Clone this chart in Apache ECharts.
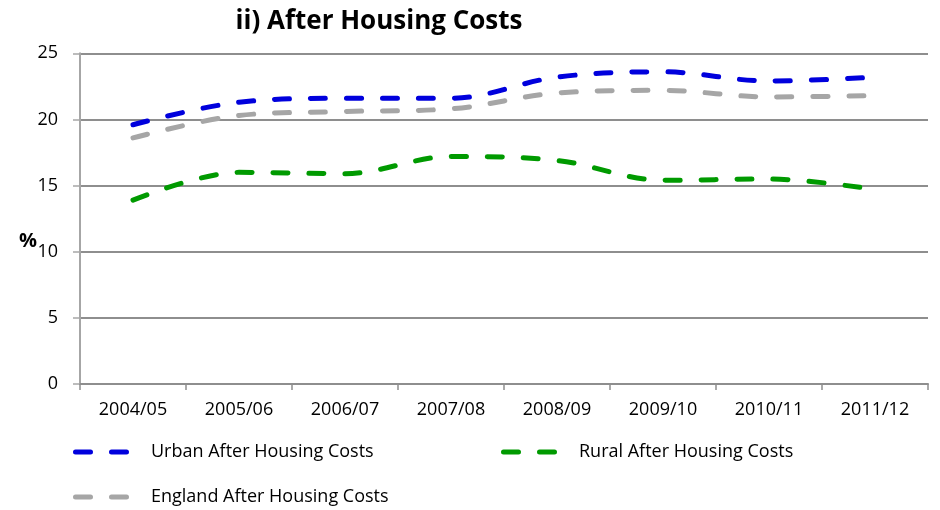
<!DOCTYPE html>
<html>
<head>
<meta charset="utf-8">
<style>
  html, body { margin: 0; padding: 0; background: #fff; }
  #chart { width: 940px; height: 510px; }
</style>
<script src="https://cdn.jsdelivr.net/npm/echarts@6/dist/echarts.min.js"></script>
</head>
<body>
<div id="chart"></div>
<script>
// Share of people in low income, after housing costs (%)
const years = ['2004/05', '2005/06', '2006/07', '2007/08', '2008/09', '2009/10', '2010/11', '2011/12'];
const urbanAHC = [19.6, 21.3, 21.6, 21.6, 23.2, 23.6, 22.9, 23.2];
const ruralAHC = [13.9, 16.0, 15.9, 17.2, 16.9, 15.4, 15.5, 14.7];
const englandAHC = [18.6, 20.3, 20.6, 20.8, 22.0, 22.2, 21.7, 21.8];
const yTicks = { min: 0, max: 25, interval: 5 };

const FONT = '"Open Sans", "Noto Sans", sans-serif';
// two rounded dashes, used as the legend key
const dashIcon = 'path://M2.5,0H17.5A2.5,2.5,0,0,1,17.5,5H2.5A2.5,2.5,0,0,1,2.5,0Z' +
                 'M38.5,0H53.5A2.5,2.5,0,0,1,53.5,5H38.5A2.5,2.5,0,0,1,38.5,0Z';

function legendAt(name, left, top) {
  return {
    data: [name], left: left, top: top, orient: 'horizontal', padding: 0,
    icon: dashIcon, itemWidth: 56, itemHeight: 5,
    selectedMode: false,
    textStyle: { fontFamily: FONT, fontSize: 18, color: '#000', lineHeight: 20, padding: [0, 0, 0, 17] }
  };
}

function dashedSeries(name, data, color) {
  return {
    name: name, type: 'line', data: data, smooth: 0.35,
    symbol: 'none', color: color,
    lineStyle: { color: color, width: 5, type: [15, 21], cap: 'round' }
  };
}

const chart = echarts.init(document.getElementById('chart'), null, { renderer: 'canvas' });
chart.setOption({
  animation: false,
  backgroundColor: '#ffffff',
  title: {
    text: 'ii) After Housing Costs', left: 379, top: 6, textAlign: 'center', padding: 0,
    textStyle: { fontFamily: FONT, fontSize: 26, fontWeight: 'bold', color: '#000', lineHeight: 32 }
  },
  grid: { left: 80, right: 12, top: 53.3, bottom: 126, containLabel: false },
  xAxis: {
    type: 'category', data: years, boundaryGap: true,
    axisLine: { lineStyle: { color: '#8e8e8e', width: 2 } },
    axisTick: { show: true, length: 6, lineStyle: { color: '#8e8e8e', width: 1.5 } },
    axisLabel: { fontFamily: FONT, fontSize: 18, color: '#000', margin: 17 }
  },
  yAxis: {
    type: 'value', min: yTicks.min, max: yTicks.max, interval: yTicks.interval,
    axisLine: { show: true, lineStyle: { color: '#a6a6a6', width: 2 } },
    axisTick: { show: true, length: 7, lineStyle: { color: '#a6a6a6', width: 1.5 } },
    axisLabel: { fontFamily: FONT, fontSize: 18, color: '#000', margin: 22 },
    splitLine: { lineStyle: { color: '#8e8e8e', width: 2 } }
  },
  legend: [
    legendAt('Urban After Housing Costs', 73, 442),
    legendAt('Rural After Housing Costs', 501, 442),
    legendAt('England After Housing Costs', 73, 487)
  ],
  graphic: [{
    type: 'text', left: 19, top: 231,
    style: { text: '%', fontFamily: FONT, fontSize: 20, fontWeight: 'bold', fill: '#000' }
  }],
  series: [
    dashedSeries('Urban After Housing Costs', urbanAHC, '#0000dd'),
    dashedSeries('England After Housing Costs', englandAHC, '#a6a6a6'),
    dashedSeries('Rural After Housing Costs', ruralAHC, '#009a00')
  ]
});
</script>
</body>
</html>
